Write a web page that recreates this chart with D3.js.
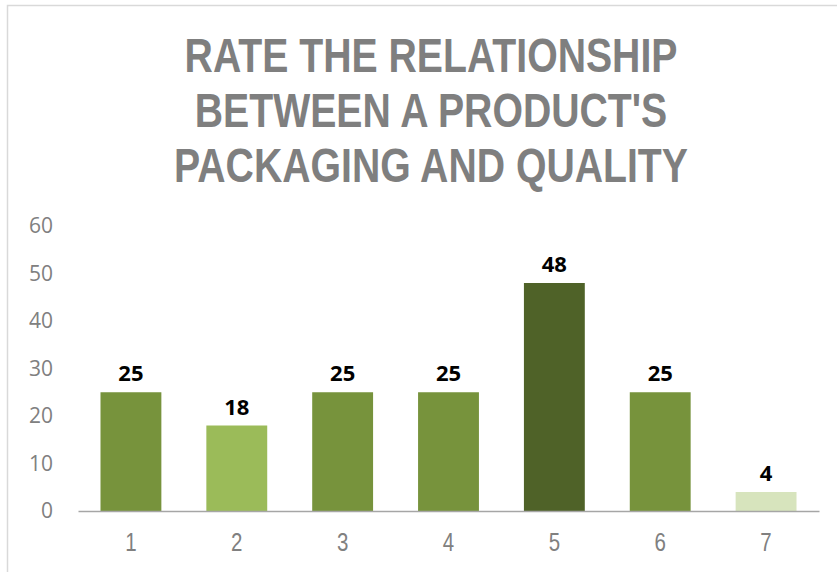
<!DOCTYPE html>
<html lang="en">
<head>
    <meta charset="utf-8">
    <title>Packaging and quality</title>
    <script src="https://d3js.org/d3.v7.min.js" charset="utf-8"></script>
    <style>
        body { margin: 0; background: #fff; }
        .ylab text { font-family: "Open Sans", sans-serif; font-size: 21px; fill: #808080; }
        .xlab text { font-family: "Liberation Sans", Arial, sans-serif; font-size: 25px; fill: #808080; }
        .title { font-family: "Liberation Sans", Arial, sans-serif; font-weight: bold; font-size: 49px; fill: #7f7f7f; }
        .val { font-family: "Open Sans", sans-serif; font-weight: bold; font-size: 22px; fill: #000; }
    </style>
</head>
<body>
<script>
    var categories = ["1", "2", "3", "4", "5", "6", "7"]
    var values = [25, 18, 25, 25, 48, 25, 4]
    var barColors = ["#77933c", "#9bbb59", "#77933c", "#77933c", "#4f6228", "#77933c", "#d7e4bd"]
    var yTicks = [0, 10, 20, 30, 40, 50, 60]
    var titleLines = ["RATE THE RELATIONSHIP", "BETWEEN A PRODUCT'S", "PACKAGING AND QUALITY"]

    var w = 837, h = 572
    var padL = 78, padR = 819, padT = 226, padB = 511

    var svg = d3.select("body").append("svg").attr("width", w).attr("height", h)

    // chart frame (runs off the right and bottom edges)
    svg.append("rect")
        .attr("x", 7.5).attr("y", 5.5)
        .attr("width", w + 20).attr("height", h + 20)
        .attr("fill", "none").attr("stroke", "#d9d9d9").attr("stroke-width", 1.5)

    // title, squeezed horizontally to look like a narrow face
    var titleG = svg.append("g")
    titleG.selectAll(".title").data(titleLines).enter().append("text")
        .attr("class", "title")
        .attr("x", 0)
        .attr("y", function (d, i) { return 72 + i * 55 })
        .attr("text-anchor", "middle")
        .text(function (d) { return d })
    var firstLen = titleG.select("text").node().getComputedTextLength()
    var squeeze = 493 / firstLen
    titleG.attr("transform", "translate(431,0) scale(" + squeeze + ",1)")

    var xScale = d3.scaleBand().domain(categories).range([padL, padR])
        .paddingInner(0.425).paddingOuter(0.2125)
    var yScale = d3.scaleLinear().domain([0, 60]).range([padB, padT])

    var yAxis = d3.axisLeft(yScale).tickValues(yTicks).tickSize(0).tickPadding(0)
    svg.append("g").attr("class", "ylab")
        .attr("transform", "translate(53,0)")
        .call(yAxis)
        .call(function (g) { g.select(".domain").remove() })

    svg.selectAll(".bar").data(values).enter().append("rect")
        .attr("class", "bar")
        .attr("x", function (d, i) { return xScale(categories[i]) })
        .attr("y", function (d) { return yScale(d) })
        .attr("width", xScale.bandwidth())
        .attr("height", function (d) { return yScale(0) - yScale(d) })
        .attr("fill", function (d, i) { return barColors[i] })

    var xAxis = d3.axisBottom(xScale).tickSize(0).tickPadding(22)
    svg.append("g").attr("class", "xlab")
        .attr("transform", "translate(0," + padB + ")")
        .call(xAxis)
        .call(function (g) { g.select(".domain").attr("stroke", "#a6a6a6").attr("stroke-width", 1.5) })
        .call(function (g) { g.selectAll(".tick text").attr("transform", "scale(0.82,1)").attr("x", 0) })

    svg.selectAll(".val").data(values).enter().append("text")
        .attr("class", "val")
        .attr("x", function (d, i) { return xScale(categories[i]) + xScale.bandwidth() / 2 })
        .attr("y", function (d) { return yScale(d) - 11 })
        .attr("text-anchor", "middle")
        .text(function (d) { return d })
</script>
</body>
</html>
